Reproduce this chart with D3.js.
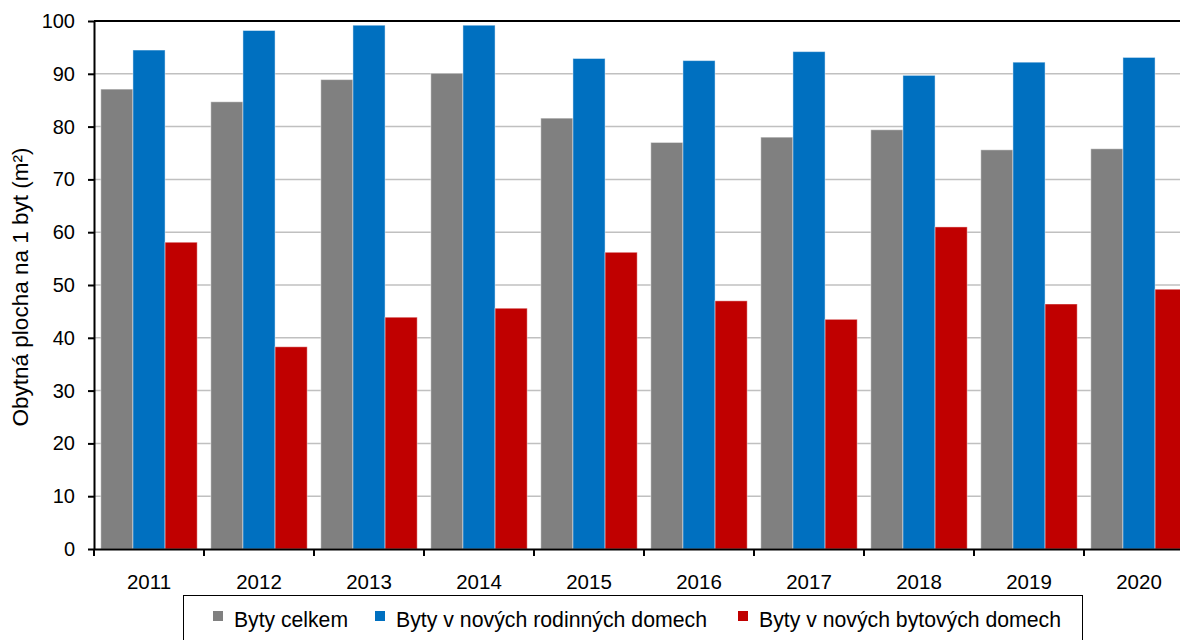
<!DOCTYPE html>
<html>
<head>
<meta charset="utf-8">
<script src="https://cdn.jsdelivr.net/npm/d3@7"></script>
<style>
  body { margin: 0; background: #fff; }
  svg { display: block; font-family: "Liberation Sans", Arial, sans-serif; }
</style>
</head>
<body>
<svg width="1180" height="640"></svg>
<script>
const years = ["2011", "2012", "2013", "2014", "2015", "2016", "2017", "2018", "2019", "2020"];
const seriesNames = ["Byty celkem", "Byty v nových rodinných domech", "Byty v nových bytových domech"];
const celkem = [87.1, 84.7, 88.9, 90.1, 81.6, 77.0, 78.0, 79.4, 75.6, 75.8];
const rodinne = [94.5, 98.2, 99.2, 99.2, 92.9, 92.5, 94.2, 89.7, 92.2, 93.1];
const bytove = [58.1, 38.3, 43.9, 45.6, 56.2, 47.0, 43.5, 61.0, 46.4, 49.2];
const yTicks = [0, 10, 20, 30, 40, 50, 60, 70, 80, 90, 100];
const colors = ["#808080", "#0070c0", "#c00000"];

const values = [celkem, rodinne, bytove];

let svg = d3.select("svg");

const plotL = 94, plotT = 21, plotB = 549, plotR = 1194;

let x = d3.scaleBand().domain(years).range([plotL, plotR]).padding(0);
let xs = d3.scaleBand().domain(d3.range(3)).range([6.8, x.bandwidth() - 6.8]).padding(0);
let y = d3.scaleLinear().domain([0, 100]).range([plotB, plotT]);

// gridlines
svg.append("g")
	.selectAll("line")
	.data(yTicks.filter(d => d > 0 && d < 100))
	.enter().append("line")
	.attr("x1", plotL).attr("x2", plotR)
	.attr("y1", d => y(d)).attr("y2", d => y(d))
	.attr("stroke", "#c0c0c0")
	.attr("stroke-width", 1.5);

// bars
let groups = svg.append("g")
	.selectAll("g")
	.data(years)
	.enter().append("g")
	.attr("transform", d => "translate(" + x(d) + ",0)");

groups.selectAll("rect")
	.data((d, i) => values.map((v, s) => ({ s: s, v: v[i] })))
	.enter().append("rect")
	.attr("x", d => xs(d.s))
	.attr("width", xs.bandwidth())
	.attr("y", d => y(d.v))
	.attr("height", d => y(0) - y(d.v))
	.attr("fill", d => colors[d.s])
	.attr("stroke", "rgba(255,255,255,0.45)")
	.attr("stroke-width", 1);

// top border
svg.append("line")
	.attr("x1", plotL).attr("x2", plotR)
	.attr("y1", plotT).attr("y2", plotT)
	.attr("stroke", "#000").attr("stroke-width", 2);

// y axis
let yAxis = svg.append("g")
	.attr("transform", "translate(" + plotL + ",0)")
	.call(d3.axisLeft(y).tickValues(yTicks).tickSize(6).tickPadding(13).tickSizeOuter(0));
yAxis.select(".domain").attr("stroke", "#000").attr("stroke-width", 2);
yAxis.selectAll(".tick line").attr("stroke", "#000").attr("stroke-width", 2);
yAxis.selectAll("text")
	.style("font-size", "20px")
	.attr("fill", "#000");

// x axis
let xAxis = svg.append("g")
	.attr("transform", "translate(0," + plotB + ")")
	.call(d3.axisBottom(x).tickSize(0).tickPadding(25).tickSizeOuter(0));
xAxis.select(".domain").attr("stroke", "#000").attr("stroke-width", 2);
xAxis.selectAll("text")
	.style("font-size", "20.5px")
	.attr("fill", "#000");

// category separators on x axis
svg.append("g")
	.selectAll("line")
	.data(years)
	.enter().append("line")
	.attr("x1", d => x(d)).attr("x2", d => x(d))
	.attr("y1", plotB).attr("y2", plotB + 7)
	.attr("stroke", "#000").attr("stroke-width", 2);

// axis title
svg.append("text")
	.attr("transform", "translate(28," + ((plotT + plotB) / 2 + 2) + ") rotate(-90)")
	.attr("text-anchor", "middle")
	.style("font-size", "22.5px")
	.text("Obytná plocha na 1 byt (m²)");

// legend
svg.append("rect")
	.attr("x", 183.5).attr("y", 595.5)
	.attr("width", 899).attr("height", 60)
	.attr("fill", "#fff")
	.attr("stroke", "#000").attr("stroke-width", 1);

const legX = [213, 375, 738];
const legW = [114, 311, 302];
let leg = svg.append("g")
	.selectAll("g")
	.data(seriesNames)
	.enter().append("g")
	.attr("transform", (d, i) => "translate(" + legX[i] + ",0)");

leg.append("rect")
	.attr("x", 0).attr("y", 611)
	.attr("width", 10).attr("height", 10)
	.attr("fill", (d, i) => colors[i]);

leg.append("text")
	.attr("x", 21).attr("y", 627)
	.attr("textLength", (d, i) => legW[i])
	.attr("lengthAdjust", "spacingAndGlyphs")
	.style("font-size", "21.5px")
	.text(d => d);
</script>
</body>
</html>
